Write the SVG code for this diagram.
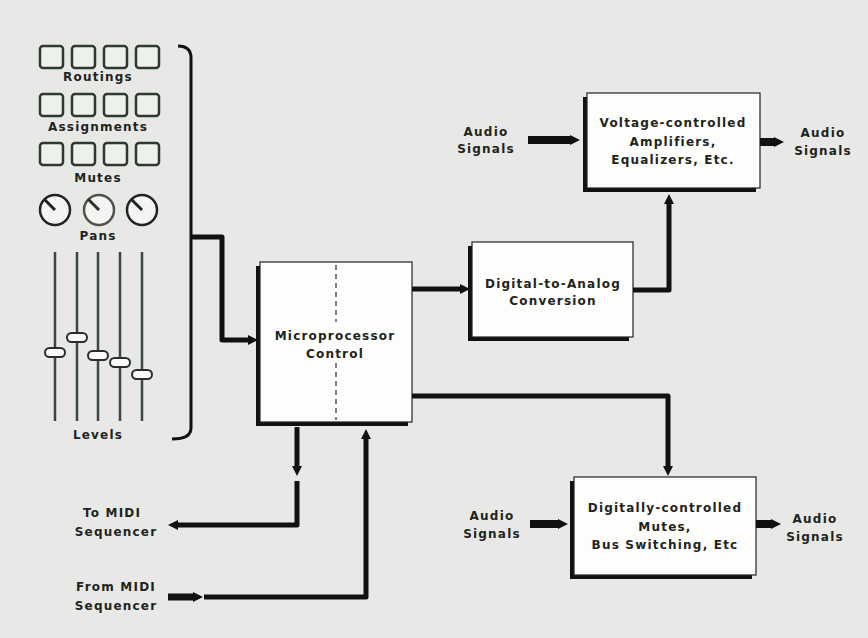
<svg xmlns="http://www.w3.org/2000/svg" width="868" height="638" viewBox="0 0 868 638">
<defs>
<style>
.t{font-family:"DejaVu Sans","Liberation Sans",sans-serif;font-weight:bold;font-size:12px;letter-spacing:1.2px;fill:#1e2420;text-anchor:middle}
.btn{fill:#eef0ec;stroke:#2d3a30;stroke-width:2.5}
.knob{fill:#f4f5f2;stroke:#1e2420;stroke-width:2.5}
.rail{stroke:#3a4640;stroke-width:2.5}
.cap{fill:#fbfbf9;stroke:#2a2f2b;stroke-width:2}
.box{fill:#fdfdfc;stroke:#222;stroke-width:1.2}
.sh{fill:#111}
.c{fill:none;stroke:#111;stroke-width:5;stroke-linejoin:round}
.cb{fill:none;stroke:#111;stroke-width:8}
</style>
<marker id="ah" viewBox="0 0 10 10" refX="2" refY="5" markerWidth="10" markerHeight="11" markerUnits="userSpaceOnUse" orient="auto">
<path d="M0,0 L10,5 L0,10 z" fill="#111"/>
</marker>
</defs>
<rect width="868" height="638" fill="#e8e9e6"/>

<g id="routings">
<rect class="btn" x="40" y="46" width="23" height="22" rx="3"/>
<rect class="btn" x="72" y="46" width="23" height="22" rx="3"/>
<rect class="btn" x="104" y="46" width="23" height="22" rx="3"/>
<rect class="btn" x="136" y="46" width="23" height="22" rx="3"/>
<text class="t" x="98" y="81">Routings</text>
</g>
<g id="assignments">
<rect class="btn" x="40" y="94" width="23" height="22" rx="3"/>
<rect class="btn" x="72" y="94" width="23" height="22" rx="3"/>
<rect class="btn" x="104" y="94" width="23" height="22" rx="3"/>
<rect class="btn" x="136" y="94" width="23" height="22" rx="3"/>
<text class="t" x="98" y="131">Assignments</text>
</g>
<g id="mutes">
<rect class="btn" x="40" y="143" width="23" height="22" rx="3"/>
<rect class="btn" x="72" y="143" width="23" height="22" rx="3"/>
<rect class="btn" x="104" y="143" width="23" height="22" rx="3"/>
<rect class="btn" x="136" y="143" width="23" height="22" rx="3"/>
<text class="t" x="98" y="182">Mutes</text>
</g>
<g id="pans">
<circle class="knob" cx="55" cy="210" r="15"/>
<line x1="55" y1="210" x2="44" y2="199" stroke="#1e2420" stroke-width="3"/>
<circle class="knob" cx="99" cy="210" r="15" style="stroke:#4a544d"/>
<line x1="99" y1="210" x2="88" y2="199" stroke="#2a302c" stroke-width="3"/>
<circle class="knob" cx="142" cy="210" r="15"/>
<line x1="142" y1="210" x2="131" y2="199" stroke="#1e2420" stroke-width="3"/>
<text class="t" x="98" y="240">Pans</text>
</g>
<g id="levels">
<line class="rail" x1="55" y1="252" x2="55" y2="421"/>
<line class="rail" x1="77" y1="252" x2="77" y2="421"/>
<line class="rail" x1="98" y1="252" x2="98" y2="421"/>
<line class="rail" x1="120" y1="252" x2="120" y2="421"/>
<line class="rail" x1="142" y1="252" x2="142" y2="421"/>
<rect class="cap" x="45" y="348" width="20" height="9" rx="4.5"/>
<rect class="cap" x="67" y="333" width="20" height="9" rx="4.5"/>
<rect class="cap" x="88" y="351" width="20" height="9" rx="4.5"/>
<rect class="cap" x="110" y="358" width="20" height="9" rx="4.5"/>
<rect class="cap" x="132" y="370" width="20" height="9" rx="4.5"/>
<text class="t" x="98" y="439">Levels</text>
</g>
<g id="bracket">
<path d="M178,46 Q191,46 191,58 V428 Q191,439 172,439" fill="none" stroke="#111" stroke-width="3"/>
</g>

<g id="microprocessor">
<rect class="sh" x="256" y="266" width="152" height="160"/>
<rect class="box" x="260" y="262" width="152" height="160"/>
<line x1="336" y1="265" x2="336" y2="322" stroke="#555" stroke-width="1.5" stroke-dasharray="5,4"/>
<line x1="336" y1="363" x2="336" y2="420" stroke="#555" stroke-width="1.5" stroke-dasharray="5,4"/>
<text class="t" x="335" y="340">Microprocessor</text>
<text class="t" x="335" y="358">Control</text>
</g>
<g id="dac">
<rect class="sh" x="468" y="246" width="161" height="95"/>
<rect class="box" x="472" y="242" width="161" height="95"/>
<text class="t" x="553" y="288">Digital-to-Analog</text>
<text class="t" x="553" y="305">Conversion</text>
</g>
<g id="vca">
<rect class="sh" x="583" y="97" width="173" height="95"/>
<rect class="box" x="587" y="93" width="173" height="95"/>
<text class="t" x="673" y="127">Voltage-controlled</text>
<text class="t" x="673" y="146">Amplifiers,</text>
<text class="t" x="673" y="164">Equalizers, Etc.</text>
</g>
<g id="dcm">
<rect class="sh" x="570" y="481" width="182" height="98"/>
<rect class="box" x="574" y="477" width="182" height="98"/>
<text class="t" x="665" y="512">Digitally-controlled</text>
<text class="t" x="665" y="531">Mutes,</text>
<text class="t" x="665" y="549">Bus Switching, Etc</text>
</g>

<g id="labels">
<text class="t" x="486" y="136">Audio</text>
<text class="t" x="486" y="153">Signals</text>
<text class="t" x="823" y="137">Audio</text>
<text class="t" x="823" y="155">Signals</text>
<text class="t" x="492" y="520">Audio</text>
<text class="t" x="492" y="538">Signals</text>
<text class="t" x="815" y="523">Audio</text>
<text class="t" x="815" y="541">Signals</text>
<text class="t" x="112" y="517">To MIDI</text>
<text class="t" x="116" y="536">Sequencer</text>
<text class="t" x="116" y="591">From MIDI</text>
<text class="t" x="116" y="610">Sequencer</text>
</g>

<g id="connectors">
<path class="c" d="M191,237 H222 V340 H250" marker-end="url(#ah)"/>
<path class="c" d="M412,289 H462" marker-end="url(#ah)"/>
<path class="c" d="M633,290 H669 V202" marker-end="url(#ah)"/>
<path class="c" d="M412,396 H668 V468" marker-end="url(#ah)"/>
<path class="cb" d="M528,140 H572" marker-end="url(#ah)"/>
<path class="cb" d="M760,142 H776" marker-end="url(#ah)"/>
<path class="cb" d="M530,524 H560" marker-end="url(#ah)"/>
<path class="cb" d="M756,524 H773" marker-end="url(#ah)"/>
<path class="c" d="M297,427 V468" marker-end="url(#ah)"/>
<path class="c" d="M297,481 V525 H176" marker-end="url(#ah)"/>
<path class="cb" style="stroke-width:7" d="M168,597 H195" marker-end="url(#ah)"/>
<path class="c" d="M204,597 H366 V437" marker-end="url(#ah)"/>
</g>
</svg>
